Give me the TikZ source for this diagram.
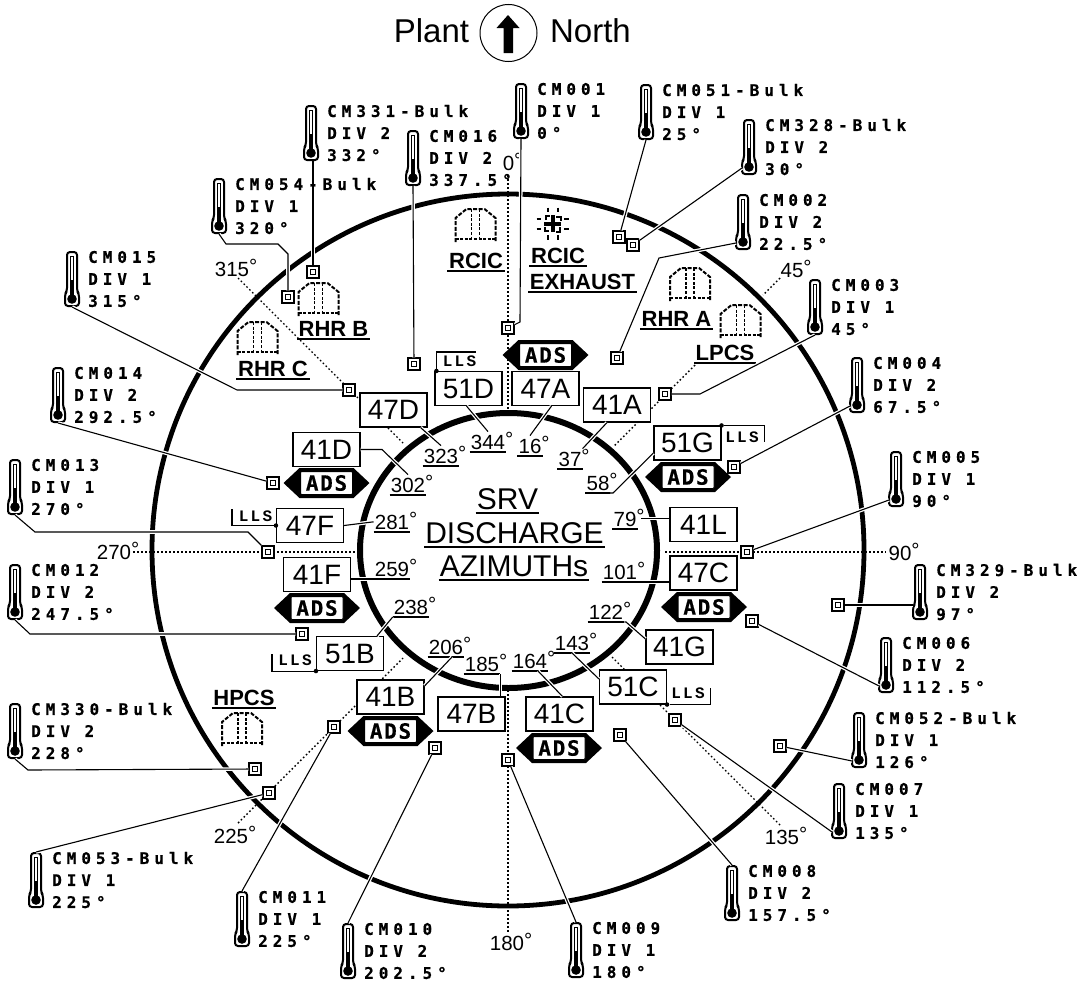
\documentclass[tikz,border=0pt]{standalone}
\usepackage{fontspec}
\setmainfont{Liberation Sans}
\newfontfamily\thermfont[LetterSpace=31,FakeBold=0.6]{DejaVu Sans Mono}
\newfontfamily\adsfont[LetterSpace=8,FakeBold=0.6]{DejaVu Sans Mono}
\newfontfamily\llsfont[LetterSpace=14]{Liberation Mono}
\usetikzlibrary{calc}
\newcommand{\fsz}[1]{\fontsize{#1}{#1}\selectfont}
\newcommand{\dg}{\rlap{\raisebox{3pt}{°}}}
\tikzset{
  rim/.style={draw=black, line width=4.8pt},
  rimin/.style={draw=black, line width=6pt},
  dots/.style={draw=black, line width=1.4pt, dash pattern=on 1.6pt off 2.4pt},
  bare/.style={draw=black, line width=1.1pt},
  wire/.style={bare, preaction={draw=white, line width=3.6pt}},
  bracket/.style={draw=black, line width=1.1pt},
  sq/.style={rectangle, draw=black, fill=white, line width=1.5pt, minimum size=12pt, inner sep=0pt,
    path picture={\draw[line width=1.2pt] ($(path picture bounding box.center)+(-2.2,-2.2)$) rectangle ++(4.4,4.4);}},
  srv/.style={rectangle, draw=black, fill=white, line width=1.1pt, minimum width=67pt, minimum height=34pt, inner sep=0pt, font=\fsz{28}},
  adslab/.style={rectangle, draw=black, fill=white, rounded corners=1pt, line width=1pt, minimum width=52pt, minimum height=23pt, inner sep=0pt, font=\fsz{21}\adsfont\bfseries},
  llslab/.style={inner sep=0pt, font=\fsz{16}\llsfont\bfseries},
  lldot/.style={circle, fill=black, inner sep=0pt, minimum size=4.5pt},
  ul/.style={append after command={(\tikzlastnode.south west) edge[draw=black, line width=1.1pt] (\tikzlastnode.south east)}},
  ang/.style={ul, anchor=south, inner xsep=1pt, inner ysep=2.5pt, text height=15pt, text depth=0pt, font=\fsz{20.5}},
  deg/.style={inner sep=0pt, font=\fsz{20.5}},
  equip/.style={ul, anchor=south, inner xsep=1.5pt, inner ysep=2.5pt, text height=16pt, text depth=0pt, font=\fsz{22}\bfseries},
  big/.style={ul, anchor=south, inner xsep=1pt, inner ysep=3pt, text height=21pt, text depth=0pt, font=\fsz{30}},
  head/.style={inner sep=0pt, font=\fsz{33}},
  thermlab/.style={anchor=west, inner sep=0pt, align=left, font=\fontsize{16}{22}\selectfont\thermfont\bfseries},
  pics/thermo/.style={code={
    \draw[line width=2pt, rounded corners=3pt, fill=white] (-5,-27) -- (5,-27) -- (5,12) -- (7,15) -- (7,27) -- (-7,27) -- (-7,15) -- (-5,12) -- cycle;
    \draw[line width=0.8pt] (-1.7,2) -- (-1.7,-23) -- (1.7,-23) -- (1.7,2);
    \fill (-1.8,1) rectangle (1.8,18);
    \fill (0,20) circle (4.8pt);
    \coordinate (-foot) at (0,28);
    \coordinate (-top) at (0,-28);
    \coordinate (-side) at (-7,21);
  }},
  pics/bldg/.style={code={
    \draw[line width=2pt, dash pattern=on 4pt off 1.6pt] (-20,16) -- (-20,-8) -- (-9,-17) -- (9,-17) -- (20,-8) -- (20,16);
    \draw[line width=2pt, dash pattern=on 3pt off 1.6pt] (-20,13) -- (20,13);
    \draw[line width=1.5pt, dash pattern=on 3pt off 1.6pt] (-4,-17) -- (-4,13) (4,-17) -- (4,13);
  }},
}
\begin{document}
\begin{tikzpicture}[x=1pt,y=-1pt]
  \useasboundingbox (0,0) rectangle (1081,985);

  % heading
  \node[head] (plant) at (431.5,31) {Plant};
  \node[head] (north) at (590.5,31) {North};
  \node[circle, draw=black, line width=1pt, minimum size=57pt, inner sep=0pt] (dial) at (508.5,33) {};
  \fill (508,15) -- (519.5,28) -- (513,28) -- (513,53) -- (503.5,53) -- (503.5,28) -- (496.5,28) -- cycle;

  % rims
  \draw[rim] (508,550) circle (356pt);
  \draw[rimin] (508.5,550.5) ellipse (148.5pt and 137.5pt);

  % radial dotted lines
  \coordinate (r0a) at (508,175);   \coordinate (r0b) at (508,412);
  \coordinate (r45a) at (780,278);  \coordinate (r45b) at (763,295);
  \coordinate (r45c) at (695,365);  \coordinate (r45d) at (613,447);
  \coordinate (r90a) at (665,552);  \coordinate (r90b) at (886,552);
  \coordinate (r135a) at (612,657); \coordinate (r135b) at (780,825);
  \coordinate (r180a) at (508,690); \coordinate (r180b) at (508,932);
  \coordinate (r225a) at (238,823); \coordinate (r225b) at (403,658);
  \coordinate (r270a) at (133,552); \coordinate (r270b) at (356,552);
  \coordinate (r315a) at (238,278); \coordinate (r315b) at (403,443);
  \draw[dots] (r0a) -- (r0b);
  \draw[dots] (r45a) -- (r45b) (r45c) -- (r45d);
  \draw[dots] (r90a) -- (r90b);
  \draw[dots] (r135a) -- (r135b);
  \draw[dots] (r180a) -- (r180b);
  \draw[dots] (r225a) -- (r225b);
  \draw[dots] (r270a) -- (r270b);
  \draw[dots] (r315a) -- (r315b);

  % azimuth labels on the rim
  \foreach \a/\x/\y in {0/508.5/162,45/792/269,90/900/552,135/782/836,180/507/942,225/231/835,270/114/551,315/232/268}
    \node[deg] (m\a) at (\x,\y) {\a\dg};

  % thermometers
  \foreach \id/\x/\y/\la/\lb/\lc in {
    001/521/111/CM001/DIV 1/0°,
    051/646/112/CM051-Bulk/DIV 1/25°,
    328/749/147/CM328-Bulk/DIV 2/30°,
    002/743/222/CM002/DIV 2/22.5°,
    003/815/307/CM003/DIV 1/45°,
    004/857/385/CM004/DIV 2/67.5°,
    005/896/479/CM005/DIV 1/90°,
    329/920/592/CM329-Bulk/DIV 2/97°,
    006/886/665/CM006/DIV 2/112.5°,
    052/859/740/CM052-Bulk/DIV 1/126°,
    007/839/811/CM007/DIV 1/135°,
    008/732/893/CM008/DIV 2/157.5°,
    009/576/950/CM009/DIV 1/180°,
    010/348/951/CM010/DIV 2/202.5°,
    011/242/919/CM011/DIV 1/225°,
    053/36/880/CM053-Bulk/DIV 1/225°,
    330/15/731/CM330-Bulk/DIV 2/228°,
    012/15/592/CM012/DIV 2/247.5°,
    013/15/487/CM013/DIV 1/270°,
    014/58/395/CM014/DIV 2/292.5°,
    015/72/279/CM015/DIV 1/315°,
    054/219/206/CM054-Bulk/DIV 1/320°,
    331/311/133/CM331-Bulk/DIV 2/332°,
    016/413/158/CM016/DIV 2/337.5°}
  {
    \pic (t\id) at (\x,\y) {thermo};
    \node[thermlab] (n\id) at (\x+16,\y) {\la\\\lb\\\lc};
  }

  % sensors
  \foreach \id/\x/\y in {001/508/328,051/619/237,328/633/245,002/617/358,003/665/394,004/734/467,005/747/552,
    329/838/605,006/752/621,052/780/746,007/675/720,008/620/735,009/508/760,010/435/748,011/334/727,
    053/269/793,330/255/769,012/302/634,013/268/552,014/273/483,015/349/390,054/288/297,331/313/272,016/414/364}
    \node[sq] (s\id) at (\x,\y) {};

  % ADS badges
  \foreach \nm/\x/\y in {47A/545.5/355,51G/688/477,47C/704/607,41C/559/748,41B/390.5/731,41F/317/608,41D/326.5/483} {
    \fill (\x-43,\y) -- (\x-27,\y-15) -- (\x+27,\y-15) -- (\x+43,\y) -- (\x+27,\y+15) -- (\x-27,\y+15) -- cycle;
    \node[adslab] (ads\nm) at (\x,\y) {ADS};
  }

  % SRV boxes
  \foreach \nm/\x/\y in {47D/393.5/410,51D/468.5/388.5,47A/545.5/388.5,41A/617/405,51G/687.5/443,41L/703.5/524.5,
    47C/703.5/573,41G/679.5/647,51C/633/687,41C/559.5/714,47B/471.5/714,41B/390.5/697,51B/350/653.5,
    41F/317/574.5,47F/310/525.5,41D/326.5/449.5}
    \node[srv] (b\nm) at (\x,\y) {\nm};

  % LLS tags
  \node[llslab] (l51D) at (459.5,361.5) {LLS};
  \node[llslab] (l51G) at (742,437.5) {LLS};
  \node[llslab] (l47F) at (255.5,516) {LLS};
  \node[llslab] (l51B) at (295,660) {LLS};
  \node[llslab] (l51C) at (688,693) {LLS};
  \node[lldot] (d51D) at ([xshift=2pt]b51D.north west) {};
  \node[lldot] (d51G) at (b51G.north east) {};
  \node[lldot] (d47F) at (b47F.west) {};
  \node[lldot] (d51B) at (b51B.south west) {};
  \node[lldot] (d51C) at (b51C.south east) {};
  \draw[bracket] (d51D) -- ++(0,-19) -- ++(40,0);
  \draw[bracket] (d51G) -- ++(43,0) -- ++(0,17);
  \draw[bracket] (d47F) -- ++(-44,0) -- ++(0,-17);
  \draw[bracket] (d51B) -- ++(-44,0) -- ++(0,-17);
  \draw[bracket] (d51C) -- ++(43,0) -- ++(0,-17);

  % discharge azimuths
  \foreach \a/\x/\y in {344/488/452,16/530/456,37/570/469,58/598/493,79/625/529,101/620/582,122/606/622,143/572/653,
    164/530/671,185/482/674,206/446/657,238/411/617,259/392/579,281/392/532,302/408/495,323/441/466}
    \node[ang] (a\a) at (\x,\y) {\a\dg};

  % centre title
  \node[big] (srvt) at (507.5,513) {SRV};
  \node[big] (dist) at (514.5,547) {DISCHARGE};
  \node[big] (azit) at (514,580) {AZIMUTHs};

  % buildings
  \pic (i1) at (475.5,226) {bldg};
  \pic (i2) at (318.5,300) {bldg};
  \pic (i3) at (257.5,339) {bldg};
  \pic (i4) at (690,285) {bldg};
  \pic (i5) at (740.5,322) {bldg};
  \pic (i6) at (242,730) {bldg};
  \node[equip] (e1) at (476,271) {RCIC};
  \node[equip] (e2) at (558,266) {RCIC};
  \node[equip] (e3) at (582.5,292) {EXHAUST};
  \node[equip] (e4) at (333.5,339) {RHR B};
  \node[equip] (e5) at (273,379) {RHR C};
  \node[equip] (e6) at (676.5,329) {RHR A};
  \node[equip] (e7) at (725,363) {LPCS};
  \node[equip] (e8) at (244,708) {HPCS};

  % exhaust
  \begin{scope}[shift={(552.5,223.5)}]
    \draw[line width=4pt] (-8.5,0) -- (8.5,0) (0,-8.5) -- (0,8.5);
    \foreach \r in {0,90,180,270}
      \draw[rotate=\r, line width=2pt] (-5,-16) -- (-5,-11.5) (5,-16) -- (5,-11.5) (3.5,-7) -- (8,-7) -- (8,-3);
  \end{scope}

  % thermometer connectors
  \draw[wire] (t001-foot) -- (520,322) -- (s001);
  \draw[wire] (t051-foot) -- (s051);
  \draw[wire] (t328-side) -- (s328);
  \draw[wire] (t002-side) -- (659,258) -- (s002);
  \draw[wire] (t003-foot) -- (700,394) -- (s003);
  \draw[wire] (t004-side) -- (s004);
  \draw[wire] (t005-side) -- (s005);
  \draw[wire] (s329.east) -- (s329.east -| t329-side);
  \draw[wire] (t006-side) -- (s006);
  \draw[wire] (t052-side) -- (s052);
  \draw[wire] (t007-side) -- (s007);
  \draw[wire] (t008-top) -- (s008);
  \draw[wire] (t009-top) -- (s009);
  \draw[wire] (t010-top) -- (s010);
  \draw[wire] (t011-top) -- (s011);
  \draw[wire] (t053-top) -- (s053);
  \draw[wire] (t330-foot) -- (28,770) -- (s330);
  \draw[wire] (t012-foot) -- (30,634) -- (s012);
  \draw[wire] (t013-foot) -- (35,532) -- (248,532) -- (s013);
  \draw[wire] (t014-foot) -- (s014);
  \draw[wire] (t015-foot) -- (237,390) -- (s015);
  \draw[wire] (t054-foot) -- (226,244) -- (278,244) -- (288,254) -- (s054);
  \draw[wire] (s331.north) -- ++(0,-40);
  \draw[bare] (s331 |- t331-foot) -- (s331.north);
  \draw[wire] (t016-foot) -- (s016);

  % azimuth connectors
  \draw[wire] ([xshift=-2pt]b51D.south) -- (a344.north);
  \draw[wire] ([xshift=6pt]b47A.south) -- (a16.north);
  \draw[wire] ([xshift=-10pt]b41A.south) -- (a37.north east);
  \draw[wire] (a58.south east) -- (613,493) -- ([yshift=-10pt]b51G.west);
  \draw[wire] ([yshift=6pt]b41L.west) -- ++(-28,0);
  \draw[wire] (a101.south east) -- (a101.south east -| b47C.west);
  \draw[wire] (a122.south east) -- (626,622) -- ([yshift=8pt]b41G.west);
  \draw[wire] (a143.south) -- ([yshift=8pt]b51C.west);
  \draw[wire] ([xshift=8pt]a164.south) -- ([xshift=3pt]b41C.north);
  \draw[wire] (a185.south east) -- (a185.south east |- b47B.north);
  \draw[wire] ([xshift=6pt]a206.south) -- ([yshift=11pt]b41B.east);
  \draw[wire] (a238.south west) -- ([xshift=27pt]b51B.north);
  \draw[wire] (a259.south west) -- (a259.south west -| b41F.east);
  \draw[wire] (b47F.east) -- (a281.west);
  \draw[wire] (b41D.east) -- (382,449.5) -- (a302.north);
  \draw[wire] ([xshift=-7pt]b47D.south east) -- (a323.north);
\end{tikzpicture}
\end{document}
